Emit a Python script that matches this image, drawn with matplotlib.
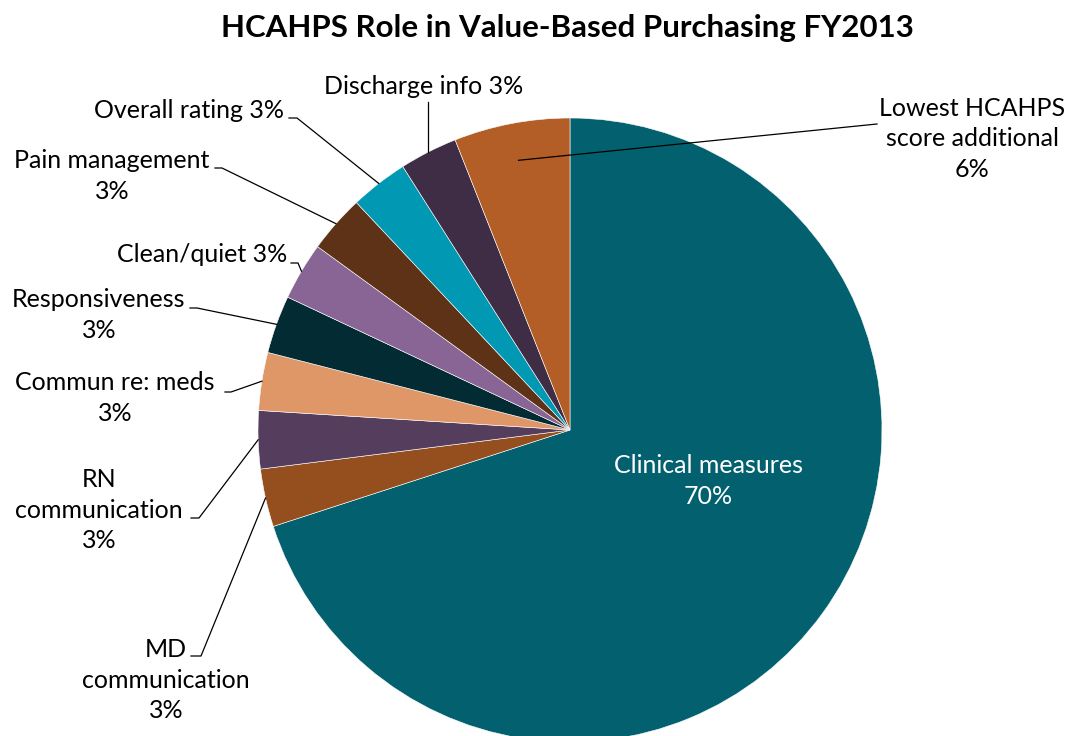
import numpy as np
import matplotlib
matplotlib.use("Agg")
import matplotlib.pyplot as plt

plt.rcParams['font.family'] = ['Lato', 'DejaVu Sans']

# Share of the FY2013 value-based purchasing score
categories = ["Clinical measures", "MD\ncommunication", "RN\ncommunication",
              "Commun re: meds", "Responsiveness", "Clean/quiet",
              "Pain management", "Overall rating", "Discharge info",
              "Lowest HCAHPS\nscore additional"]
shares = [70, 3, 3, 3, 3, 3, 3, 3, 3, 6]
colors = ["#03616f", "#954f1f", "#553e5d", "#df9768", "#022b33",
          "#886594", "#5e3217", "#0098b3", "#3f2d46", "#b35e26"]

W, H = 1075, 736
fig = plt.figure(figsize=(W / 100, H / 100), dpi=100)
ax = fig.add_axes([0, 0, 1, 1])

cx, cy, R = 570, H - 430, 312
wedges, _ = ax.pie(shares, colors=colors, startangle=90, counterclock=False,
                   center=(cx, cy), radius=R,
                   wedgeprops=dict(edgecolor="white", linewidth=0.4))
ax.set_xlim(0, W)
ax.set_ylim(0, H)
ax.set_aspect("equal")
ax.axis("off")


def edge_point(w, frac=1.0):
    ang = np.deg2rad((w.theta1 + w.theta2) / 2)
    return cx + frac * R * np.cos(ang), cy + frac * R * np.sin(ang)


def label_text(i, pct):
    name = categories[i]
    return f"{name}\n{pct}%"


fs = 18
ls = 1.38
# (index, text, x, y from top, leader start, leader elbow)
labels = [
    (1, label_text(1, shares[1]), 166, 680, (191, 656), (201, 656)),
    (2, label_text(2, shares[2]), 99, 510, (191, 518), (199, 518)),
    (3, label_text(3, shares[3]), 115, 398, (225, 392), (231, 392)),
    (4, label_text(4, shares[4]), 99, 315, (190, 308), (197, 308)),
    (5, f"{categories[5]} {shares[5]}%", 202, 254, (291, 263), (298, 263)),
    (6, label_text(6, shares[6]), 112, 176, (215, 168), (222, 168)),
    (7, f"{categories[7]} {shares[7]}%", 189, 111, (289, 118), (297, 118)),
]

for i, txt, x, y, start, elbow in labels:
    ax.text(x, H - y, txt, ha="center", va="center", fontsize=fs,
            color="black", linespacing=ls)
    px, py = edge_point(wedges[i])
    ax.plot([start[0], elbow[0], px], [H - start[1], H - elbow[1], py],
            color="black", lw=0.9)

# Discharge info: label above, vertical leader
ax.text(424, H - 86, f"{categories[8]} {shares[8]}%", ha="center",
        va="center", fontsize=fs)
px, py = edge_point(wedges[8])
ax.plot([px, px], [H - 102, py], color="black", lw=0.9)

# Lowest HCAHPS additional, leader runs into the wedge
ax.text(972, H - 139, label_text(9, shares[9]), ha="center",
        va="center", fontsize=fs, linespacing=ls)
px, py = edge_point(wedges[9], 0.88)
ax.plot([877, px], [H - 124, py], color="black", lw=0.9)

# Clinical measures inside the big wedge
ax.text(708, H - 481, label_text(0, shares[0]),
        ha="center", va="center", fontsize=fs, color="white", linespacing=ls)

fig.text(567 / W, 1 - 28 / H, "HCAHPS Role in Value-Based Purchasing FY2013",
         ha="center", va="center", fontsize=22.5, fontweight="bold")

fig.savefig("out.png", dpi=100)
